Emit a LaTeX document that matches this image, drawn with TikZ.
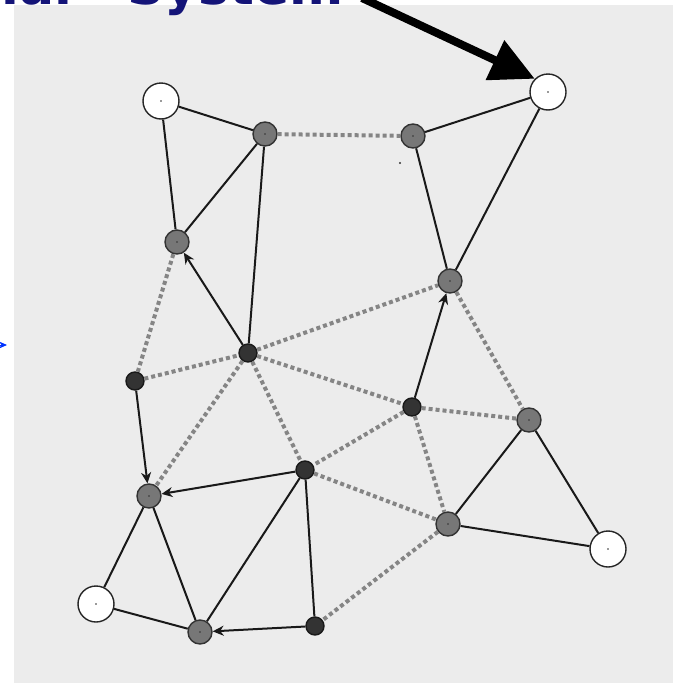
\documentclass[tikz,border=0pt]{standalone}
\usepackage{fontspec}
\newfontfamily\titlefont{DejaVu Sans}
\usetikzlibrary{arrows.meta}
\definecolor{panel}{HTML}{ECECEC}
\definecolor{navy}{RGB}{20,20,120}
\definecolor{midgray}{HTML}{777777}
\definecolor{darkfill}{HTML}{333333}
\definecolor{dotgray}{HTML}{858585}
\tikzset{
  centerdot/.style={path picture={\fill[black!80] (path picture bounding box.center) circle (0.9pt);}},
  whitenode/.style={circle, draw=black!85, line width=1.4pt, fill=white, minimum size=36pt, inner sep=0pt, centerdot},
  graynode/.style={circle, draw=black!80, line width=1.4pt, fill=midgray, minimum size=24pt, inner sep=0pt, centerdot},
  darknode/.style={circle, draw=black!90, line width=1.4pt, fill=darkfill, minimum size=18pt, inner sep=0pt, centerdot},
  solidedge/.style={draw=black!90, line width=2pt},
  arrowedge/.style={draw=black!90, line width=2pt, -{Stealth[length=11pt,width=10pt,inset=3.5pt]}},
  dotedge/.style={draw=dotgray, line width=4pt, dash pattern=on 4pt off 3pt},
  titletext/.style={inner sep=0pt, text=navy, font=\titlefont\bfseries\fontsize{52}{60}\selectfont},
}
\begin{document}
\begin{tikzpicture}[x=1pt,y=-1pt]
\useasboundingbox (0,0) rectangle (673,683);
\fill[panel] (14,5) rectangle (673,683);
% title
\node[titletext, anchor=base east] (t1) at (80,4) {Solar};
\node[titletext, anchor=base west] (t2) at (127,4) {System};
% nodes
\node[whitenode] (W1) at (161,101) {};
\node[whitenode] (W2) at (548,92) {};
\node[whitenode] (W3) at (608,549) {};
\node[whitenode] (W4) at (96,604) {};
\node[graynode] (G1) at (265,134) {};
\node[graynode] (G2) at (413,136) {};
\node[graynode] (G3) at (177,242) {};
\node[graynode] (G4) at (450,281) {};
\node[graynode] (G5) at (529,420) {};
\node[graynode] (G6) at (149,496) {};
\node[graynode] (G7) at (448,524) {};
\node[graynode] (G8) at (200,632) {};
\node[darknode] (D1) at (248,353) {};
\node[darknode] (D2) at (135,381) {};
\node[darknode] (D3) at (412,407) {};
\node[darknode] (D4) at (305,470) {};
\node[darknode] (D5) at (315,626) {};
\fill[black!80] (400,163) circle (1.1pt);
% dotted edges
\foreach \a/\b in {G1/G2, G3/D2, D2/D1, D1/G4, D1/G6, D1/D4, D1/D3, D3/G5, D3/D4, D3/G7, G4/G5, D4/G7, G7/D5}
  \draw[dotedge] (\a) -- (\b);
% solid edges
\foreach \a/\b in {W1/G1, W1/G3, G1/G3, G1/D1, G2/W2, G2/G4, W2/G4, G6/W4, G6/G8, W4/G8, D4/G8, D4/D5, G5/G7, G5/W3, G7/W3}
  \draw[solidedge] (\a) -- (\b);
% arrow edges
\foreach \a/\b in {D1/G3, D3/G4, D2/G6, D4/G6, D5/G8}
  \draw[arrowedge] (\a) -- (\b);
% pointer arrow
\coordinate (p0) at (362,-2);
\draw[line width=8pt, -{Triangle[length=44pt,width=42pt]}] (p0) -- (W2.north west);
% blue arrow tip at left edge
\coordinate (b0) at (-20,345);
\coordinate (b1) at (7,345);
\draw[draw=blue!80!cyan, line width=1pt, -{Stealth[length=8pt,width=7pt]}] (b0) -- (b1);
\end{tikzpicture}
\end{document}
